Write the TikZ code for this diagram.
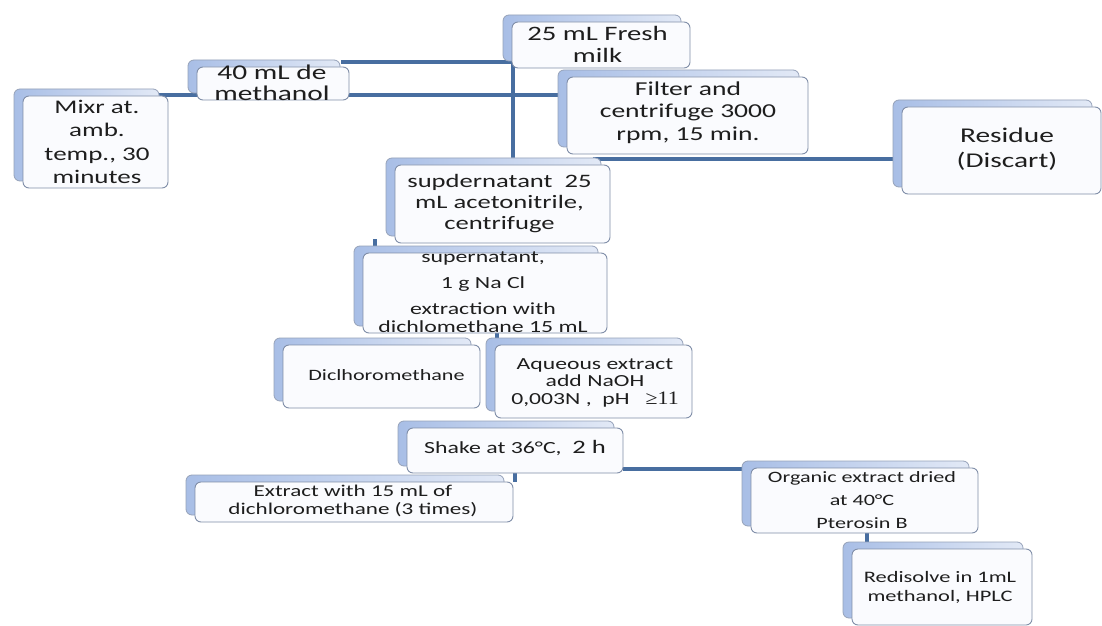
\documentclass[tikz,border=0pt]{standalone}
\usepackage{fontspec}
\setmainfont{Carlito}[FakeStretch=1.4]
\newfontfamily\serifnum{Liberation Serif}[FakeStretch=1.15]
\usetikzlibrary{shadows,backgrounds}
\pgfdeclarelayer{paper}
\pgfsetlayers{paper,background,main}
\definecolor{conncol}{RGB}{72,110,160}
\definecolor{backL}{RGB}{168,190,230}
\definecolor{backR}{RGB}{226,233,246}
\definecolor{backD}{RGB}{150,162,185}
\definecolor{frontD}{RGB}{128,142,168}
\definecolor{frontF}{RGB}{250,251,254}
\definecolor{txtcol}{RGB}{30,30,30}
\begin{document}
\begin{tikzpicture}[x=1pt,y=-1pt,
  conn/.style={draw=conncol, line width=4pt},
  backbox/.style={shadow xshift=-9pt, shadow yshift=7pt, left color=backL, right color=backR, draw=backD, line width=0.8pt},
  box/.style={rounded corners=6pt, draw=frontD, line width=0.9pt, fill=frontF, inner sep=0pt, copy shadow={backbox}},
  txt/.style={align=center, inner sep=0pt, text=txtcol},
  fs/.style 2 args={font=\fontsize{#1}{#2}\selectfont},
]
\begin{pgfonlayer}{paper}
\path[use as bounding box, fill=white] (0,0) rectangle (1102,620);
\end{pgfonlayer}

% boxes
\node[box, minimum width=178pt, minimum height=46pt] (milk) at (601,45) {};
\node[box, minimum width=152pt, minimum height=33pt] (meth) at (273,83.5) {};
\node[box, minimum width=145pt, minimum height=92pt] (mixr) at (95.5,142) {};
\node[box, minimum width=241pt, minimum height=77pt] (filter) at (687.5,115.5) {};
\node[box, minimum width=199pt, minimum height=87pt] (resid) at (1001.5,150.5) {};
\node[box, minimum width=215pt, minimum height=78pt] (supd) at (502.5,204) {};
\node[box, minimum width=244pt, minimum height=80pt] (supn) at (485,293) {};
\node[box, minimum width=197pt, minimum height=63pt] (dich) at (381.5,376.5) {};
\node[box, minimum width=197pt, minimum height=73pt] (aq) at (593.5,381.5) {};
\node[box, minimum width=216pt, minimum height=45pt] (shake) at (515,450.5) {};
\node[box, minimum width=318pt, minimum height=40pt] (extr) at (354,502) {};
\node[box, minimum width=227pt, minimum height=65pt] (org) at (864.5,500.5) {};
\node[box, minimum width=180pt, minimum height=76pt] (redis) at (942,587) {};

% texts
\node[txt, fs={20.5}{22}] (milkT) at (597.5,44) {25 mL Fresh\\milk};
\node[txt, fs={21}{21}] (methT) at (272,82.5) {40 mL de\\methanol};
\node[txt, fs={19.3}{23.4}] (mixrT) at (97,142) {Mixr at.\\amb.\\temp., 30\\minutes};
\node[txt, fs={19.7}{22.5}] (filterT) at (688,112.5) {Filter and\\centrifuge 3000\\rpm, 15 min.};
\node[txt, fs={21}{25}] (residT) at (1007,149.5) {Residue\\(Discart)};
\node[txt, fs={19}{21}] (supdT) at (499.5,204) {supdernatant\ \ 25\\mL acetonitrile,\\centrifuge};
\node[txt, fs={17}{18}] (supnT) at (483,292.5) {supernatant,\\[8pt]1 g Na Cl\\[8pt]extraction with\\dichlomethane 15 mL};
\node[txt, fs={15.8}{18}] (dichT) at (386.5,375) {Diclhoromethane};
\node[txt, fs={16.9}{17.5}] (aqT) at (595,382.5) {Aqueous extract\\add NaOH\\0,003N ,\ \ pH\ \ \ {\serifnum\fontsize{19}{17.5}\selectfont ≥11}};
\node[txt, fs={17}{18}] (shakeT) at (515,448) {Shake at 36°C,\ \ {\fontsize{19}{19}\selectfont 2 h}};
\node[txt, fs={16.5}{18}] (extrT) at (353,501) {Extract with 15 mL of\\dichloromethane (3 times)};
\node[txt, fs={15.8}{23}] (orgT) at (862,500) {Organic extract dried\\at 40°C\\Pterosin B};
\node[txt, fs={16}{19}] (redisT) at (940,587.5) {Redisolve in 1mL\\methanol, HPLC};

% connectors
\begin{scope}[on background layer]
\draw[conn] ([xshift=-8pt,yshift=5pt]meth.north east) -| ([xshift=1pt]milk.west |- supd.north);
\draw[conn] ([xshift=-9pt,yshift=1pt]mixr.north east) -- ([yshift=1pt]mixr.north east -| filter.west);
\draw[conn] ([xshift=26pt,yshift=-5pt]filter.south west) -- ([yshift=-5pt]filter.south west -| resid.west);
\draw[conn] ([xshift=12pt]supn.north west) -- ++(0,-14);
\draw[conn] ([xshift=12pt]supn.south) -- ([xshift=12pt]supn.south |- aq.north);
\draw[conn] (shake.south) -- (shake.south |- extr.north);
\draw[conn] ([yshift=4pt]shake.south east) -- ([yshift=4pt]shake.south east -| org.west);
\draw[conn] ([xshift=2pt]org.south) -- ([xshift=2pt]org.south |- redis.north);
\end{scope}
\end{tikzpicture}
\end{document}
